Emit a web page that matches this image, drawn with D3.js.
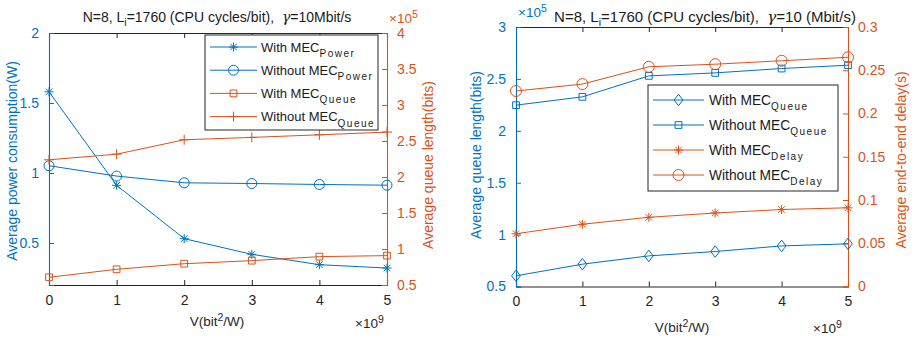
<!DOCTYPE html>
<html><head><meta charset="utf-8">
<script src="https://cdn.jsdelivr.net/npm/d3@7"></script>
<style>
body{margin:0;background:#fff;}
text{font-family:"Liberation Sans",Arial,Helvetica,sans-serif;}
</style></head>
<body><svg id="c" width="915" height="338"></svg>
<script>
// ---------- data ----------
const vValues = [0, 1, 2, 3, 4, 5];          // ×10^9
const xTicks = [0, 1, 2, 3, 4, 5];
// left chart
const powerWithMEC    = [1.58, 0.912, 0.531, 0.419, 0.345, 0.321];
const powerWithoutMEC = [1.052, 0.978, 0.930, 0.925, 0.918, 0.913];
const queueWithMEC1    = [0.607, 0.718, 0.796, 0.838, 0.894, 0.908]; // ×10^5
const queueWithoutMEC1 = [2.239, 2.317, 2.517, 2.550, 2.586, 2.624];
const leftPowerTicks = [0.5, 1, 1.5, 2];
const leftQueueTicks = [0.5, 1, 1.5, 2, 2.5, 3, 3.5, 4];
// right chart
const queueWithMEC2    = [0.603, 0.715, 0.795, 0.837, 0.891, 0.911]; // ×10^5
const queueWithoutMEC2 = [2.247, 2.327, 2.529, 2.558, 2.600, 2.632];
const delayWithMEC     = [0.061, 0.072, 0.080, 0.085, 0.089, 0.091];
const delayWithoutMEC  = [0.226, 0.234, 0.254, 0.257, 0.261, 0.265];
const rightQueueTicks = [0.5, 1, 1.5, 2, 2.5, 3];
const rightDelayTicks = [0, 0.05, 0.1, 0.15, 0.2, 0.25, 0.3];

const BLUE = "#0072BD", ORANGE = "#D95319", DARK = "#262626";
const svg = d3.select("#c");

function markerPath(type, s) {
  const p = d3.path();
  if (type === "circle") { p.moveTo(s, 0); p.arc(0, 0, s, 0, 2 * Math.PI); }
  else if (type === "square") { p.rect(-s * 0.75, -s * 0.75, s * 1.5, s * 1.5); }
  else if (type === "diamond") { p.moveTo(0, -s * 1.05); p.lineTo(s * 0.8, 0); p.lineTo(0, s * 1.05); p.lineTo(-s * 0.8, 0); p.closePath(); }
  else if (type === "plus") { p.moveTo(-s, 0); p.lineTo(s, 0); p.moveTo(0, -s); p.lineTo(0, s); }
  else if (type === "star") {
    p.moveTo(-s, 0); p.lineTo(s, 0); p.moveTo(0, -s); p.lineTo(0, s);
    const d = s * 0.72; p.moveTo(-d, -d); p.lineTo(d, d); p.moveTo(-d, d); p.lineTo(d, -d);
  }
  return p.toString();
}

function subText(g, x, y, main, sub, color, size) {
  const t = g.append("text").attr("x", x).attr("y", y).attr("fill", color || "#000")
    .attr("font-size", size || 13);
  t.append("tspan").text(main);
  t.append("tspan").attr("dy", 5.5).attr("font-size", 10).attr("letter-spacing", 1.5).text(sub);
  return t;
}
function supText(g, x, y, main, sup, color, anchor, after) {
  const t = g.append("text").attr("x", x).attr("y", y).attr("fill", color)
    .attr("font-size", 13.5).attr("text-anchor", anchor || "start");
  t.append("tspan").text(main);
  t.append("tspan").attr("dy", -5).attr("font-size", 10.5).text(sup);
  if (after) t.append("tspan").attr("dy", 5).text(after);
  return t;
}

function chart(cfg) {
  const { x0, x1, y0, y1 } = cfg;
  const g = svg.append("g");
  const x = d3.scaleLinear().domain([0, 5]).range([x0, x1]);
  const yL = d3.scaleLinear().domain(cfg.leftDomain).range([y1, y0]);
  const yR = d3.scaleLinear().domain(cfg.rightDomain).range([y1, y0]);

  const bottom = g.append("g").attr("transform", `translate(0,${y1})`)
    .call(d3.axisBottom(x).tickValues(xTicks).tickSize(-5).tickPadding(10).tickFormat(d3.format("d")));
  const top = g.append("g").attr("transform", `translate(0,${y0})`)
    .call(d3.axisTop(x).tickValues(xTicks).tickSize(-5).tickFormat(""));
  [bottom, top].forEach(a => {
    a.select(".domain").attr("stroke", DARK);
    a.selectAll(".tick line").attr("stroke", DARK);
    a.selectAll("text").attr("fill", DARK).attr("font-size", 14).attr("font-family", "Liberation Sans, Arial");
  });
  const la = g.append("g").attr("transform", `translate(${x0},0)`)
    .call(d3.axisLeft(yL).tickValues(cfg.leftTicks).tickSize(-5).tickPadding(10).tickFormat(d => String(d)));
  la.select(".domain").attr("stroke", BLUE);
  la.selectAll(".tick line").attr("stroke", BLUE);
  la.selectAll("text").attr("fill", BLUE).attr("font-size", 14).attr("font-family", "Liberation Sans, Arial");
  const ra = g.append("g").attr("transform", `translate(${x1},0)`)
    .call(d3.axisRight(yR).tickValues(cfg.rightTicks).tickSize(-5).tickPadding(10).tickFormat(d => String(d)));
  ra.select(".domain").attr("stroke", ORANGE);
  ra.selectAll(".tick line").attr("stroke", ORANGE);
  ra.selectAll("text").attr("fill", ORANGE).attr("font-size", 14).attr("font-family", "Liberation Sans, Arial");
  g.selectAll(".domain").attr("stroke-width", 1.1);

  cfg.series.forEach(s => {
    const ys = s.axis === "L" ? yL : yR;
    const line = d3.line().x((d, i) => x(vValues[i])).y(d => ys(d));
    g.append("path").datum(s.data).attr("d", line).attr("fill", "none")
      .attr("stroke", s.color).attr("stroke-width", 1);
    g.selectAll(null).data(s.data).enter().append("path")
      .attr("transform", (d, i) => `translate(${x(vValues[i])},${ys(d)})`)
      .attr("d", markerPath(s.marker, s.size)).attr("fill", "none")
      .attr("stroke", s.color).attr("stroke-width", 1);
  });

  const L = cfg.legend;
  g.append("rect").attr("x", L.x).attr("y", L.y).attr("width", L.w).attr("height", L.h)
    .attr("fill", "#fff").attr("stroke", DARK).attr("stroke-width", 1);
  cfg.series.forEach((s, i) => {
    const yy = L.y + L.first + i * L.step;
    g.append("line").attr("x1", L.x + L.l1).attr("x2", L.x + L.l2).attr("y1", yy).attr("y2", yy)
      .attr("stroke", s.color).attr("stroke-width", 1);
    g.append("path").attr("transform", `translate(${L.x + (L.l1 + L.l2) / 2},${yy})`)
      .attr("d", markerPath(s.marker, s.size)).attr("fill", "none").attr("stroke", s.color);
    subText(g, L.x + L.tx, yy + 4.5, s.name, s.sub, "#1a1a1a", L.fs);
  });
  return { g, x, yL, yR };
}

chart({
  x0: 49, x1: 387, y0: 33, y1: 285,
  leftDomain: [0.2, 2], rightDomain: [0.5, 4],
  leftTicks: leftPowerTicks, rightTicks: leftQueueTicks,
  series: [
    { name: "With MEC", sub: "Power", data: powerWithMEC, axis: "L", color: BLUE, marker: "star", size: 4.5 },
    { name: "Without MEC", sub: "Power", data: powerWithoutMEC, axis: "L", color: BLUE, marker: "circle", size: 5 },
    { name: "With MEC", sub: "Queue", data: queueWithMEC1, axis: "R", color: ORANGE, marker: "square", size: 4.5 },
    { name: "Without MEC", sub: "Queue", data: queueWithoutMEC1, axis: "R", color: ORANGE, marker: "plus", size: 5 }
  ],
  legend: { x: 205, y: 35, w: 173, h: 95, first: 12, step: 23.2, l1: 5, l2: 52, tx: 56, fs: 13 }
});
chart({
  x0: 516, x1: 848, y0: 27, y1: 286.5,
  leftDomain: [0.5, 3], rightDomain: [0, 0.3],
  leftTicks: rightQueueTicks, rightTicks: rightDelayTicks,
  series: [
    { name: "With MEC", sub: "Queue", data: queueWithMEC2, axis: "L", color: BLUE, marker: "diamond", size: 5.5 },
    { name: "Without MEC", sub: "Queue", data: queueWithoutMEC2, axis: "L", color: BLUE, marker: "square", size: 4.5 },
    { name: "With MEC", sub: "Delay", data: delayWithMEC, axis: "R", color: ORANGE, marker: "star", size: 4.5 },
    { name: "Without MEC", sub: "Delay", data: delayWithoutMEC, axis: "R", color: ORANGE, marker: "circle", size: 5.5 }
  ],
  legend: { x: 648, y: 85, w: 190, h: 106, first: 15, step: 25, l1: 5, l2: 56, tx: 61, fs: 13.8 }
});

function title(xc, txt2, fs) {
  const t = svg.append("text").attr("x", xc).attr("y", 22).attr("text-anchor", "middle")
    .attr("font-size", fs).attr("fill", "#1a1a1a");
  t.append("tspan").text("N=8, L");
  t.append("tspan").attr("dy", 4).attr("font-size", 10.5).text("i");
  t.append("tspan").attr("dy", -4).text("=1760 (CPU cycles/bit),\u00a0\u00a0");
  t.append("tspan").attr("font-style", "italic").attr("font-family", "DejaVu Serif, serif").text("γ");
  t.append("tspan").text(txt2);
}
title(217, "=10Mbit/s", 14);
title(705, "=10 (Mbit/s)", 15);

supText(svg, 217, 326, "V(bit", "2", DARK, "middle", "/W)");
supText(svg, 682, 332, "V(bit", "2", DARK, "middle", "/W)");
supText(svg, 355, 328, "×10", "9", DARK);
supText(svg, 813, 333, "×10", "9", DARK);
supText(svg, 389, 23, "×10", "5", ORANGE);
supText(svg, 518, 17, "×10", "5", BLUE);

function ylabel(xc, yc, txt, color) {
  svg.append("text").attr("transform", `translate(${xc},${yc}) rotate(-90)`)
    .attr("text-anchor", "middle").attr("font-size", 14).attr("fill", color).text(txt);
}
ylabel(17, 161, "Average power consumption(W)", BLUE);
ylabel(433, 165, "Average queue length(bits)", ORANGE);
ylabel(481, 155, "Average queue length(bits)", BLUE);
ylabel(906, 160, "Average end-to-end delay(s)", ORANGE);
</script></body></html>
